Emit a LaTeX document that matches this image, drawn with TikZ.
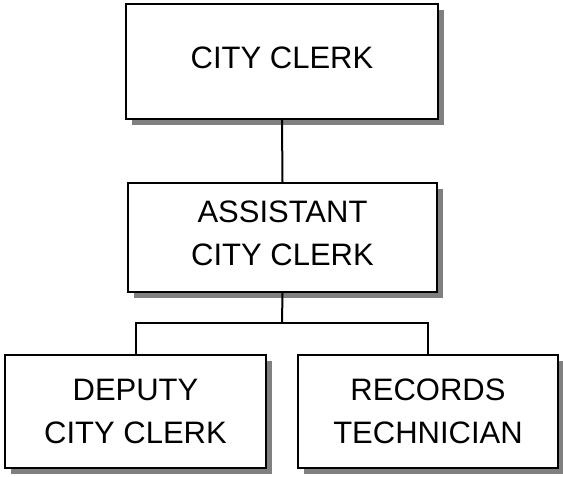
\documentclass[tikz,border=0pt]{standalone}
\usepackage{fontspec}
\setmainfont{Liberation Sans}
\usetikzlibrary{shadows}
\begin{document}
\begin{tikzpicture}[x=1pt,y=-1pt,
  orgbox/.style={draw=black, line width=2.4pt, fill=white, align=center,
    inner sep=0pt, font=\fontsize{31}{43}\selectfont,
    drop shadow={shadow xshift=6pt, shadow yshift=-6pt, fill=black!50, opacity=1}},
  link/.style={draw=black, line width=2pt}]
\useasboundingbox (0,0) rectangle (563,477);
\node[orgbox, minimum width=312pt, minimum height=115pt, text depth=8pt] (top) at (282,61.5) {CITY CLERK};
\node[orgbox, minimum width=309pt, minimum height=109pt, text depth=9pt] (mid) at (282.5,237.5) {ASSISTANT\\CITY CLERK};
\node[orgbox, minimum width=261pt, minimum height=113pt] (left) at (135.5,411.5) {DEPUTY\\CITY CLERK};
\node[orgbox, minimum width=260pt, minimum height=113pt] (right) at (428,411.5) {RECORDS\\TECHNICIAN};
\coordinate (j) at (282,323);
\draw[link] (top.south) -- (mid.north);
\draw[link] (mid.south) -- (j);
\draw[link] (left.north) |- (j) -| (right.north);
\end{tikzpicture}
\end{document}
